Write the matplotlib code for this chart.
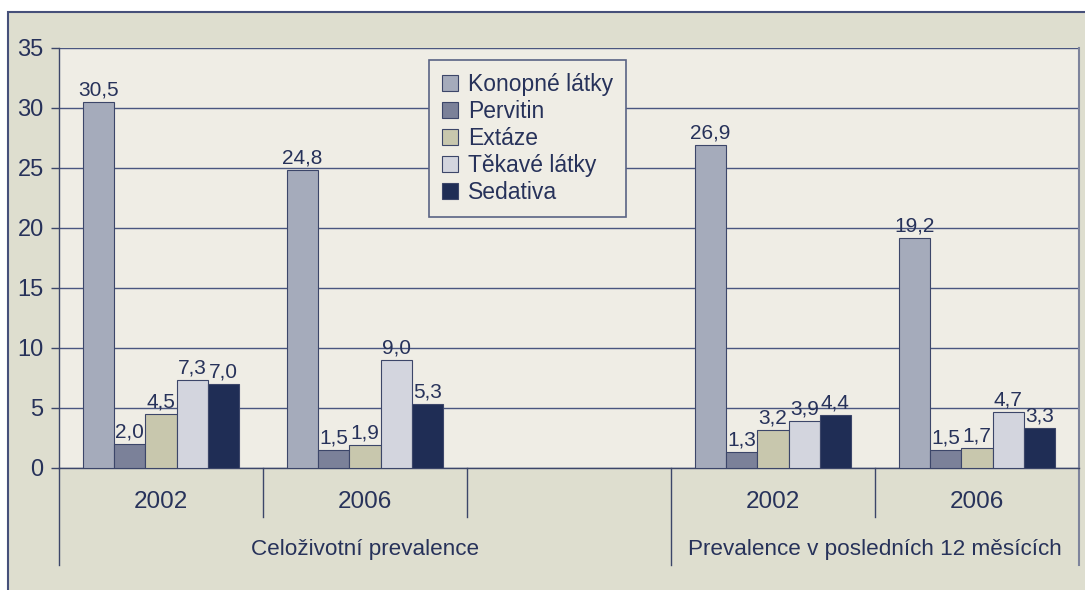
import matplotlib
matplotlib.use("Agg")
import matplotlib.pyplot as plt
from matplotlib.patches import Rectangle
from matplotlib.transforms import blended_transform_factory
import numpy as np

plt.rcParams['font.family'] = ['Liberation Sans', 'DejaVu Sans']

years = ["2002", "2006", "", "2002", "2006"]
outer_groups = ["Celoživotní prevalence", "Prevalence v posledních 12 měsících"]
outer_spans = [(0, 2), (3, 4)]
series_names = ["Konopné látky", "Pervitin", "Extáze", "Těkavé látky", "Sedativa"]
konopne = [30.5, 24.8, np.nan, 26.9, 19.2]
pervitin = [2.0, 1.5, np.nan, 1.3, 1.5]
extaze = [4.5, 1.9, np.nan, 3.2, 1.7]
tekave = [7.3, 9.0, np.nan, 3.9, 4.7]
sedativa = [7.0, 5.3, np.nan, 4.4, 3.3]
series = [konopne, pervitin, extaze, tekave, sedativa]
colors = ["#a5abbb", "#7b8199", "#c8c7ad", "#d3d5de", "#1f2d55"]

TXT = "#27325a"
EDGE = "#3c4669"
W, H = 1085, 590

fig = plt.figure(figsize=(W / 100, H / 100), dpi=100)
fig.patch.set_facecolor("white")
fig.patches.append(Rectangle((8 / W, -0.05), 1.1, (H - 12) / H + 0.05,
                             transform=fig.transFigure, facecolor="#dedecf",
                             edgecolor="#46507a", linewidth=1.5, zorder=0))

ax = fig.add_axes([59 / W, (H - 468) / H, 1020 / W, 420 / H])
ax.set_facecolor("#efede5")
ax.set_zorder(1)

x = np.arange(len(years))
bw = 0.153
for i, (vals, c, name) in enumerate(zip(series, colors, series_names)):
    offs = (i - 2) * bw
    ax.bar(x + offs, vals, width=bw, color=c, edgecolor=EDGE, linewidth=0.8,
           label=name, zorder=3)
    for xi, v in zip(x, vals):
        if not np.isnan(v):
            ax.text(xi + offs, v + 0.2, f"{v:.1f}".replace(".", ","),
                    ha="center", va="bottom", fontsize=15, color=TXT, zorder=4)

ax.set_xlim(-0.5, 4.5)
ax.set_ylim(0, 35)
ax.set_yticks(range(0, 36, 5))
ax.yaxis.grid(True, color="#4a5680", linewidth=1)
ax.set_axisbelow(True)
ax.tick_params(axis="y", labelsize=17, labelcolor=TXT, color=EDGE, length=6, width=1, pad=5)
ax.set_xticks([])
ax.spines["top"].set_visible(False)
ax.spines["right"].set_color("#7e849c")
ax.spines["right"].set_linewidth(1.5)
for s in ["left", "bottom"]:
    ax.spines[s].set_color(EDGE)
    ax.spines[s].set_linewidth(1)

tr = blended_transform_factory(ax.transData, ax.transAxes)
short_y = (468 - 517) / 420
long_y = (468 - 565) / 420
for sx in [0.5, 1.5, 3.5]:
    ax.plot([sx, sx], [0, short_y], color=EDGE, lw=1, transform=tr, clip_on=False)
for sx in [-0.5, 2.5]:
    ax.plot([sx, sx], [0, long_y], color=EDGE, lw=1, transform=tr, clip_on=False)
ax.plot([4.5, 4.5], [0, long_y], color="#7e849c", lw=1.5, transform=tr, clip_on=False)

for xi, lab in zip(x, years):
    if lab:
        ax.text(xi, (468 - 502) / 420, lab, transform=tr, ha="center", va="center",
                fontsize=17.5, color=TXT)
for (a, b), lab in zip(outer_spans, outer_groups):
    ax.text((a + b) / 2, (468 - 550) / 420, lab, transform=tr, ha="center",
            va="center", fontsize=16.2, color=TXT)

leg = ax.legend(loc="upper left", bbox_to_anchor=((429 - 59) / 1020, (468 - 60) / 420),
                fontsize=16.5, frameon=True, fancybox=False, edgecolor="#5a6384",
                facecolor="#efede5", framealpha=1, handlelength=0.7, handleheight=0.7,
                handletextpad=0.45, labelspacing=0.18, borderpad=0.55, borderaxespad=0)
leg.get_frame().set_linewidth(1.2)
for t in leg.get_texts():
    t.set_color(TXT)
leg.set_zorder(5)

fig.savefig("out.png", dpi=100, facecolor=fig.get_facecolor())
